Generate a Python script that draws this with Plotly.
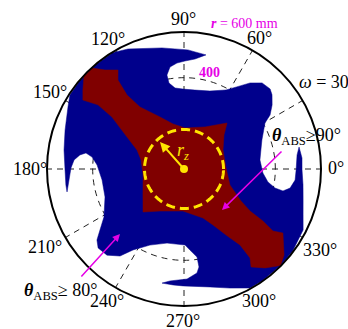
import numpy as np
import plotly.graph_objects as go

# ---- data (angles in degrees, radii in mm) ----
blue_theta = [345.4, 352.3, 359.5, 5.3, 10.8, 7.1, 359.5, 354.3, 349.8, 347.5, 348.2, 351.2, 357.1,
              6.8, 13.9, 20.4, 29.6, 32.1, 36.0, 40.1, 42.9, 47.8, 52.5, 56.0, 62.0, 71.6, 82.1,
              90.7, 96.3, 99.9, 100.3, 97.8, 93.8, 89.5, 84.3, 79.1, 84.6, 88.1, 100.3, 115.0,
              121.6, 130, 140, 147, 151.9, 161.9, 171.0, 180.5, 187.7, 191.1, 185.5, 179.5,
              175.3, 172.3, 170.7, 172.6, 177.4, 187.6, 199.5, 211.0, 216.0, 219.2, 222.6,
              228.2, 233.7, 237.8, 245.9, 257.1, 270.8, 274.2, 278.4, 278.7, 277.1, 271.6,
              262.9, 259.1, 264.6, 269.5, 282.4, 291.1, 299.0, 305, 315, 323, 332.9, 338.9, 345.4]
blue_r = [539, 526, 517, 519, 513, 499, 491, 489, 472, 444, 407, 372, 346,
          335, 347, 364, 408, 445, 477, 504, 515, 509, 475, 439, 392, 360, 349,
          350, 357, 382, 418, 451, 465, 473, 484, 509, 515, 522, 539, 580,
          598, 598, 598, 596, 576, 548, 532, 521, 522, 522, 506, 495,
          483, 460, 435, 406, 381, 362, 367, 409, 455, 492, 511,
          506, 473, 419, 365, 333, 333, 356, 390, 434, 459, 482,
          494, 509, 510, 512, 529, 559, 596, 598, 598, 596, 586, 559, 539]

red_theta = [46.9, 63.4, 88.6, 103.7, 114.8, 125.4, 127.6, 126.6, 123.7, 128.6, 132.3, 137.1,
             142.0, 145.7, 143.3, 144.2, 150.7, 158.0, 168.2, 188.3, 212.4, 226.4, 240.3,
             268.6, 291.2, 297.4, 302.5, 306.4, 306.6, 304.4, 309.3, 315.0, 319.3, 327.1,
             325.1, 326.6, 327.5, 330.7, 340.8, 1.4, 26.0, 40.4, 46.9]
red_r = [276, 206, 180, 203, 251, 333, 409, 485, 521, 555, 598, 598,
         562, 536, 470, 389, 286, 222, 192, 181, 213, 260, 212,
         184, 230, 276, 343, 413, 485, 520, 560, 598, 578, 516,
         475, 414, 343, 286, 213, 184, 190, 230, 276]

rz_radius = 173          # mm, yellow dashed circle
rim_radius = 600         # mm
radial_ticks = [200, 400]
angle_ticks = [0, 30, 60, 90, 120, 150, 180, 210, 240, 270, 300, 330]
angle_labels = ["0°", "<i>ω</i> = 30°", "60°", "90°", "120°", "150°", "180°",
                "210°", "240°", "270°", "300°", "330°"]

# ---- layout helpers ----
W, H = 348, 329
CX, CY, RP = 184, 169, 137
SERIF = "Liberation Serif, Times New Roman, serif"
BLUE = "rgb(0,0,140)"
RED = "rgb(128,0,0)"
YEL = "rgb(255,228,0)"
MAG = "rgb(230,0,230)"

# pixel placement of the angle labels (style/placement only)
label_pos = {0: (336, 168, "center"), 30: (297, 82, "left"), 60: (259, 38, "center"),
             90: (183, 19, "center"), 120: (108, 39, "center"), 150: (50, 92, "center"),
             180: (30, 169, "center"), 210: (45, 247, "center"), 240: (107, 301, "center"),
             270: (183, 321, "center"), 300: (259, 301, "center"), 330: (320, 250, "center")}


def px(x, y):
    return x / W, 1 - y / H


fig = go.Figure()
fig.add_trace(go.Scatterpolar(theta=blue_theta, r=blue_r, mode="lines", fill="toself",
                              fillcolor=BLUE, line=dict(color=BLUE, width=0.5),
                              hoverinfo="skip", showlegend=False))
fig.add_trace(go.Scatterpolar(theta=red_theta, r=red_r, mode="lines", fill="toself",
                              fillcolor=RED, line=dict(color=RED, width=0.5),
                              hoverinfo="skip", showlegend=False))
circ_t = np.linspace(0, 360, 181)
fig.add_trace(go.Scatterpolar(theta=circ_t, r=[rz_radius] * len(circ_t), mode="lines",
                              line=dict(color=YEL, width=3, dash="9px,5px"),
                              hoverinfo="skip", showlegend=False))
fig.add_trace(go.Scatterpolar(theta=[0], r=[0], mode="markers",
                              marker=dict(color=YEL, size=8),
                              hoverinfo="skip", showlegend=False))

x0, x1 = (CX - RP) / W, (CX + RP) / W
y0, y1 = 1 - (CY + RP) / H, 1 - (CY - RP) / H

annotations = []


def ann(text, x, y, color="black", size=18, xanchor="center", yanchor="middle"):
    ax_, ay_ = px(x, y)
    annotations.append(dict(text=text, x=ax_, y=ay_, xref="paper", yref="paper",
                            showarrow=False, xanchor=xanchor, yanchor=yanchor,
                            font=dict(family=SERIF, size=size, color=color)))


def arrow(tail, tip, color, width=1.5, head=2, size=1.0):
    tx, ty = px(*tip)
    annotations.append(dict(text="", x=tx, y=ty, xref="paper", yref="paper",
                            ax=tail[0] - tip[0], ay=tail[1] - tip[1],
                            showarrow=True, arrowcolor=color, arrowwidth=width,
                            arrowhead=head, arrowsize=size, standoff=0, startstandoff=0))


for ang, lab in zip(angle_ticks, angle_labels):
    lx, ly, anchor = label_pos[ang]
    ann(lab, lx, ly, "black", 18, xanchor=anchor)

ann("<b><i>r</i></b> = 600 mm", 245, 23, MAG, 14)
ann("<b>400</b>", 209, 72, MAG, 14)
ann("<b><i>θ</i></b><sub>ABS</sub>≥90°", 270, 136, "black", 18, xanchor="left")
ann("<b><i>θ</i></b><sub>ABS</sub>≥ 80°", 22, 291, "black", 18, xanchor="left")
ann("<i>r</i><sub><i>z</i></sub>", 183, 151, YEL, 18)
arrow((283, 150), (222, 210), MAG)
arrow((80, 278), (120, 234), MAG)
arrow((184, 169), (160, 142), YEL, width=2, head=2, size=1.0)

fig.update_layout(
    width=W, height=H, margin=dict(l=0, r=0, t=0, b=0),
    paper_bgcolor="white", showlegend=False,
    polar=dict(
        domain=dict(x=[x0, x1], y=[y0, y1]),
        bgcolor="white",
        radialaxis=dict(range=[0, rim_radius], tickvals=radial_ticks, showticklabels=False,
                        ticks="", showline=False, showgrid=True, gridcolor="#222",
                        gridwidth=1, griddash="6px,5px", layer="below traces"),
        angularaxis=dict(rotation=0, direction="counterclockwise", tickmode="array",
                         tickvals=angle_ticks, ticktext=angle_labels, ticks="",
                         showticklabels=False,
                         showline=True, linecolor="black", linewidth=2,
                         showgrid=True, gridcolor="#222", gridwidth=1, griddash="6px,5px",
                         layer="above traces"),
    ),
    annotations=annotations,
)

fig.write_html("out.html", config={"displayModeBar": False, "staticPlot": True},
               post_script="document.body.style.margin='0';document.body.style.overflow='hidden';")
